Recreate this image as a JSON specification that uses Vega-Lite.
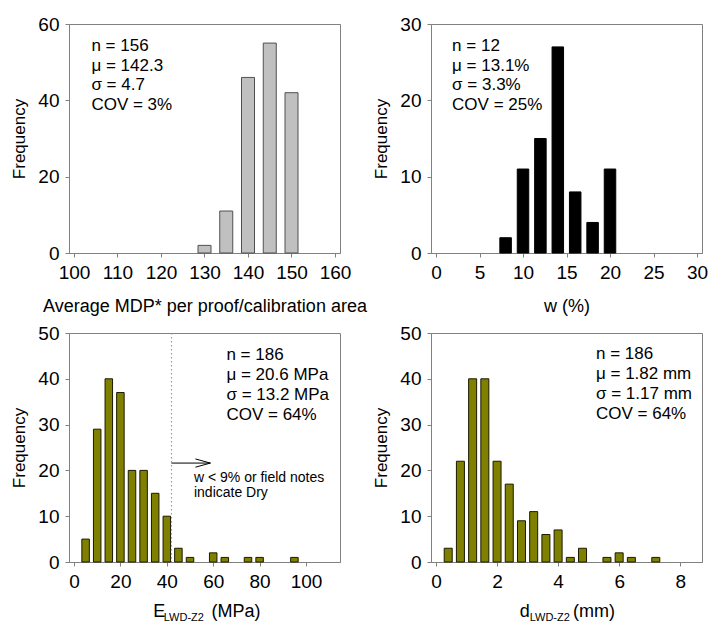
{
  "$schema": "https://vega.github.io/schema/vega-lite/v6.json",
  "padding": {"left": 10, "top": 14, "right": 0, "bottom": 0},
  "bounds": "flush",
  "columns": 2,
  "spacing": {"row": 80, "column": 91},
  "config": {
    "font": "Liberation Sans",
    "view": {"stroke": "#808080", "strokeWidth": 1},
    "axis": {
      "domainColor": "#808080", "tickColor": "#808080", "labelColor": "#000000", "titleColor": "#000000",
      "labelFontSize": 19, "titleFontSize": 18, "titleFontWeight": "normal", "grid": false,
      "tickSize": 4, "labelPadding": 6, "labelOverlap": false, "labelFont": "Liberation Sans", "titleFont": "Liberation Sans"
    },
    "axisY": {"titleFontSize": 17},
    "text": {"font": "Liberation Sans"}
  },
  "concat": [
    {
      "width": 271, "height": 229,
      "layer": [
        {
          "data": {"values": [{"x": 130, "y": 2}, {"x": 135, "y": 11}, {"x": 140, "y": 46}, {"x": 145, "y": 55}, {"x": 150, "y": 42}]},
          "mark": {"type": "bar", "width": 13, "fill": "#c0c0c0", "stroke": "#505050", "strokeWidth": 1},
          "encoding": {
            "x": {"field": "x", "type": "quantitative", "scale": {"domain": [100, 160], "nice": false, "zero": false},
                  "axis": {"values": [100, 110, 120, 130, 140, 150, 160], "title": "Average MDP* per proof/calibration area", "titlePadding": 15}},
            "y": {"field": "y", "type": "quantitative", "scale": {"domain": [0, 60], "nice": false},
                  "axis": {"values": [0, 10, 20, 30, 40, 50, 60], "title": "Frequency", "titlePadding": 9}}
          }
        },
        {
          "data": {"values": [{"label": "n = 156\nμ = 142.3\nσ = 4.7\nCOV = 3%"}]},
          "mark": {"type": "text", "align": "left", "baseline": "alphabetic", "lineBreak": "\n", "lineHeight": 19.7, "fontSize": 17},
          "encoding": {"x": {"datum": 104}, "y": {"datum": 52.9}, "text": {"field": "label"}}
        }
      ]
    },
    {
      "width": 271, "height": 229,
      "layer": [
        {
          "data": {"values": [{"x": 8, "y": 2}, {"x": 10, "y": 11}, {"x": 12, "y": 15}, {"x": 14, "y": 27}, {"x": 16, "y": 8}, {"x": 18, "y": 4}, {"x": 20, "y": 11}]},
          "mark": {"type": "bar", "width": 11.5, "fill": "#000000", "stroke": "#000000", "strokeWidth": 1},
          "encoding": {
            "x": {"field": "x", "type": "quantitative", "scale": {"domain": [0, 30], "nice": false},
                  "axis": {"values": [0, 5, 10, 15, 20, 25, 30], "title": "w (%)", "titlePadding": 15}},
            "y": {"field": "y", "type": "quantitative", "scale": {"domain": [0, 30], "nice": false},
                  "axis": {"values": [0, 5, 10, 15, 20, 25, 30], "title": "Frequency", "titlePadding": 9}}
          }
        },
        {
          "data": {"values": [{"label": "n = 12\nμ = 13.1%\nσ = 3.3%\nCOV = 25%"}]},
          "mark": {"type": "text", "align": "left", "baseline": "alphabetic", "lineBreak": "\n", "lineHeight": 19.7, "fontSize": 17},
          "encoding": {"x": {"datum": 1.85}, "y": {"datum": 26.45}, "text": {"field": "label"}}
        }
      ]
    },
    {
      "width": 271, "height": 229,
      "layer": [
        {
          "data": {"values": [{"x": 5, "y": 5}, {"x": 10, "y": 29}, {"x": 15, "y": 40}, {"x": 20, "y": 37}, {"x": 25, "y": 20}, {"x": 30, "y": 20}, {"x": 35, "y": 15}, {"x": 40, "y": 10}, {"x": 45, "y": 3}, {"x": 50, "y": 1}, {"x": 60, "y": 2}, {"x": 65, "y": 1}, {"x": 75, "y": 1}, {"x": 80, "y": 1}, {"x": 95, "y": 1}]},
          "mark": {"type": "bar", "width": 7.5, "fill": "#808000", "stroke": "#1a1a00", "strokeWidth": 1},
          "encoding": {
            "x": {"field": "x", "type": "quantitative", "scale": {"domain": [0, 112.5], "nice": false},
                  "axis": {"values": [0, 20, 40, 60, 80, 100], "title": null}},
            "y": {"field": "y", "type": "quantitative", "scale": {"domain": [0, 50], "nice": false},
                  "axis": {"values": [0, 10, 20, 30, 40, 50], "title": "Frequency", "titlePadding": 9}}
          }
        },
        {
          "data": {"values": [{"limit": 42}]},
          "mark": {"type": "rule", "color": "#ff5f5f", "strokeDash": [1.5, 2.5], "strokeWidth": 1},
          "encoding": {"x": {"field": "limit", "type": "quantitative"}}
        },
        {
          "data": {"values": [{"from": 42, "to": 58.8, "at": 21.6}]},
          "mark": {"type": "rule", "color": "#000000", "strokeWidth": 1},
          "encoding": {"x": {"field": "from", "type": "quantitative"}, "x2": {"field": "to"}, "y": {"field": "at", "type": "quantitative"}}
        },
        {
          "data": {"values": [{"to": 58.8, "at": 21.6}]},
          "mark": {"type": "point", "shape": "M -2 -0.55 L 0 0 L -2 0.55", "filled": false, "stroke": "#000000", "strokeWidth": 1, "size": 225, "opacity": 1},
          "encoding": {"x": {"field": "to", "type": "quantitative"}, "y": {"field": "at", "type": "quantitative"}}
        },
        {
          "data": {"values": [{"label": "w < 9% or field notes\nindicate Dry"}]},
          "mark": {"type": "text", "align": "left", "baseline": "alphabetic", "lineBreak": "\n", "lineHeight": 15, "fontSize": 14},
          "encoding": {"x": {"datum": 51.7}, "y": {"datum": 17.4}, "text": {"field": "label"}}
        },
        {
          "data": {"values": [{"label": "n = 186\nμ = 20.6 MPa\nσ = 13.2 MPa\nCOV = 64%"}]},
          "mark": {"type": "text", "align": "left", "baseline": "alphabetic", "lineBreak": "\n", "lineHeight": 20, "fontSize": 17},
          "encoding": {"x": {"datum": 65.7}, "y": {"datum": 44.0}, "text": {"field": "label"}}
        },
        {
          "data": {"values": [{"label": "E"}]},
          "mark": {"type": "text", "align": "left", "baseline": "alphabetic", "fontSize": 18},
          "encoding": {"x": {"datum": 34.2}, "y": {"datum": -12.0}, "text": {"field": "label"}}
        },
        {
          "data": {"values": [{"label": "LWD-Z2"}]},
          "mark": {"type": "text", "align": "left", "baseline": "alphabetic", "fontSize": 11},
          "encoding": {"x": {"datum": 38.7}, "y": {"datum": -12.9}, "text": {"field": "label"}}
        },
        {
          "data": {"values": [{"label": "(MPa)"}]},
          "mark": {"type": "text", "align": "left", "baseline": "alphabetic", "fontSize": 18},
          "encoding": {"x": {"datum": 59.3}, "y": {"datum": -12.0}, "text": {"field": "label"}}
        }
      ]
    },
    {
      "width": 271, "height": 229,
      "layer": [
        {
          "data": {"values": [{"x": 0.4, "y": 3}, {"x": 0.8, "y": 22}, {"x": 1.2, "y": 40}, {"x": 1.6, "y": 40}, {"x": 2.0, "y": 22}, {"x": 2.4, "y": 17}, {"x": 2.8, "y": 9}, {"x": 3.2, "y": 11}, {"x": 3.6, "y": 6}, {"x": 4.0, "y": 7}, {"x": 4.4, "y": 1}, {"x": 4.8, "y": 3}, {"x": 5.6, "y": 1}, {"x": 6.0, "y": 2}, {"x": 6.4, "y": 1}, {"x": 7.2, "y": 1}]},
          "mark": {"type": "bar", "width": 8, "fill": "#808000", "stroke": "#1a1a00", "strokeWidth": 1},
          "encoding": {
            "x": {"field": "x", "type": "quantitative", "scale": {"domain": [0, 8.55], "nice": false},
                  "axis": {"values": [0, 2, 4, 6, 8], "title": null}},
            "y": {"field": "y", "type": "quantitative", "scale": {"domain": [0, 50], "nice": false},
                  "axis": {"values": [0, 10, 20, 30, 40, 50], "title": "Frequency", "titlePadding": 9}}
          }
        },
        {
          "data": {"values": [{"label": "n = 186\nμ = 1.82 mm\nσ = 1.17 mm\nCOV = 64%"}]},
          "mark": {"type": "text", "align": "left", "baseline": "alphabetic", "lineBreak": "\n", "lineHeight": 20, "fontSize": 17},
          "encoding": {"x": {"datum": 5.24}, "y": {"datum": 44.4}, "text": {"field": "label"}}
        },
        {
          "data": {"values": [{"label": "d"}]},
          "mark": {"type": "text", "align": "left", "baseline": "alphabetic", "fontSize": 18},
          "encoding": {"x": {"datum": 2.74}, "y": {"datum": -12.0}, "text": {"field": "label"}}
        },
        {
          "data": {"values": [{"label": "LWD-Z2"}]},
          "mark": {"type": "text", "align": "left", "baseline": "alphabetic", "fontSize": 11},
          "encoding": {"x": {"datum": 3.07}, "y": {"datum": -12.9}, "text": {"field": "label"}}
        },
        {
          "data": {"values": [{"label": "(mm)"}]},
          "mark": {"type": "text", "align": "left", "baseline": "alphabetic", "fontSize": 18},
          "encoding": {"x": {"datum": 4.49}, "y": {"datum": -12.0}, "text": {"field": "label"}}
        }
      ]
    }
  ]
}
